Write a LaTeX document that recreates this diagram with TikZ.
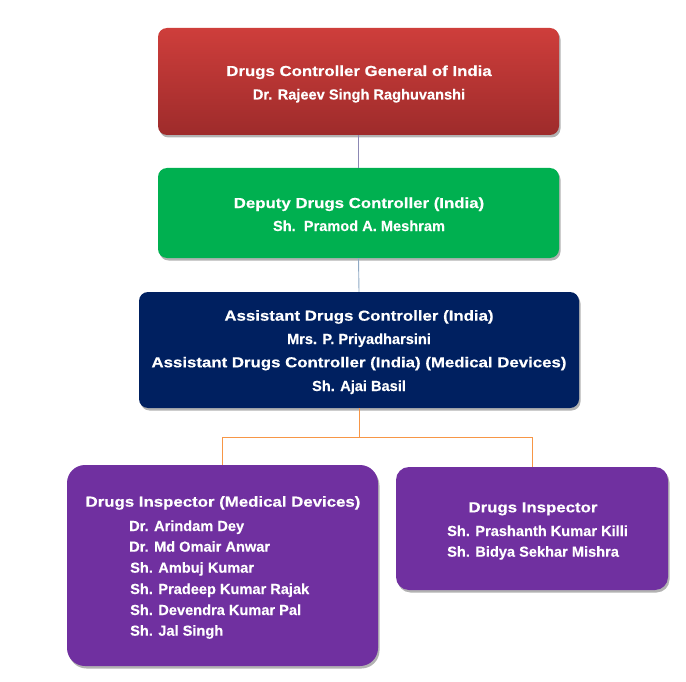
\documentclass[tikz,border=0pt]{standalone}
\usepackage{fontspec}
\setmainfont{Liberation Sans}
\newfontfamily\headfont[FakeStretch=1.16,FakeBold=0.4]{Liberation Sans Bold}
\newfontfamily\namefont[FakeBold=0.3]{Liberation Sans Bold}
\usetikzlibrary{shadows}
\definecolor{redtop}{HTML}{CE3E3B}
\definecolor{redbot}{HTML}{9E2B2B}
\definecolor{dgreen}{HTML}{00B050}
\definecolor{dnavy}{HTML}{002060}
\definecolor{dpurple}{HTML}{7030A0}
\definecolor{lineA}{HTML}{8C88B4}
\definecolor{lineB}{HTML}{8FA9C4}
\definecolor{lineC}{HTML}{F79646}
\tikzset{
  box/.style={draw=none, inner sep=0pt, rounded corners=#1,
    drop shadow={shadow xshift=1.5pt, shadow yshift=-2.5pt, opacity=0.3, fill=black}},
  box/.default=9pt,
  headtxt/.style={text=white, font=\headfont\fontsize{14.5}{17}\selectfont, inner sep=0pt, anchor=base},
  nametxt/.style={text=white, font=\namefont\fontsize{14.6}{17}\selectfont, inner sep=0pt, anchor=base},
  lnametxt/.style={nametxt, anchor=base west},
  conn/.style={line width=0.9pt}
}
\begin{document}
\begin{tikzpicture}[x=1pt,y=-1pt]
\useasboundingbox (0,0) rectangle (686,682);
% boxes
\node[box, minimum width=401pt, minimum height=107pt, top color=redtop, bottom color=redbot] (dcgi) at (358.5,81.5) {};
\node[box, minimum width=401pt, minimum height=90pt, fill=dgreen] (ddc) at (358.5,213) {};
\node[box, minimum width=440pt, minimum height=116pt, fill=dnavy] (adc) at (359,350) {};
\node[box=18pt, minimum width=311pt, minimum height=201pt, fill=dpurple] (dimd) at (222.5,565.5) {};
\node[box=13pt, minimum width=272pt, minimum height=123pt, fill=dpurple] (di) at (532,528.5) {};
% connectors
\draw[conn, lineA] (dcgi.south) -- (ddc.north);
\draw[conn, lineB] (ddc.south) -- (adc.north);
\coordinate (jn) at (359,437);
\draw[conn, lineC] (adc.south) -- (jn) -| (dimd.north);
\draw[conn, lineC] (jn) -| (di.north);
% texts
\node[headtxt] (t1) at (359,76) {Drugs Controller General of India};
\node[nametxt] (t2) at (359,99.5) {Dr. Rajeev Singh Raghuvanshi};
\node[headtxt] (t3) at (359,208) {Deputy Drugs Controller (India)};
\node[nametxt] (t4) at (359,231) {Sh.\ \ Pramod A. Meshram};
\node[headtxt] (t5) at (359,320.7) {Assistant Drugs Controller (India)};
\node[nametxt] (t6) at (359,344) {Mrs. P. Priyadharsini};
\node[headtxt] (t7) at (359,367.3) {Assistant Drugs Controller (India) (Medical Devices)};
\node[nametxt] (t8) at (359,391) {Sh. Ajai Basil};
\node[headtxt] (t9) at (223,506.7) {Drugs Inspector (Medical Devices)};
\node[lnametxt] (n1) at (129,531) {Dr. Arindam Dey};
\node[lnametxt] (n2) at (129,551.7) {Dr. Md Omair Anwar};
\node[lnametxt] (n3) at (130,572.7) {Sh. Ambuj Kumar};
\node[lnametxt] (n4) at (130,594) {Sh. Pradeep Kumar Rajak};
\node[lnametxt] (n5) at (130,615) {Sh. Devendra Kumar Pal};
\node[lnametxt] (n6) at (130,635.7) {Sh. Jal Singh};
\node[headtxt] (t10) at (533,512.3) {Drugs Inspector};
\node[lnametxt] (m1) at (447,536) {Sh. Prashanth Kumar Killi};
\node[lnametxt] (m2) at (447,556.7) {Sh. Bidya Sekhar Mishra};
\end{tikzpicture}
\end{document}
